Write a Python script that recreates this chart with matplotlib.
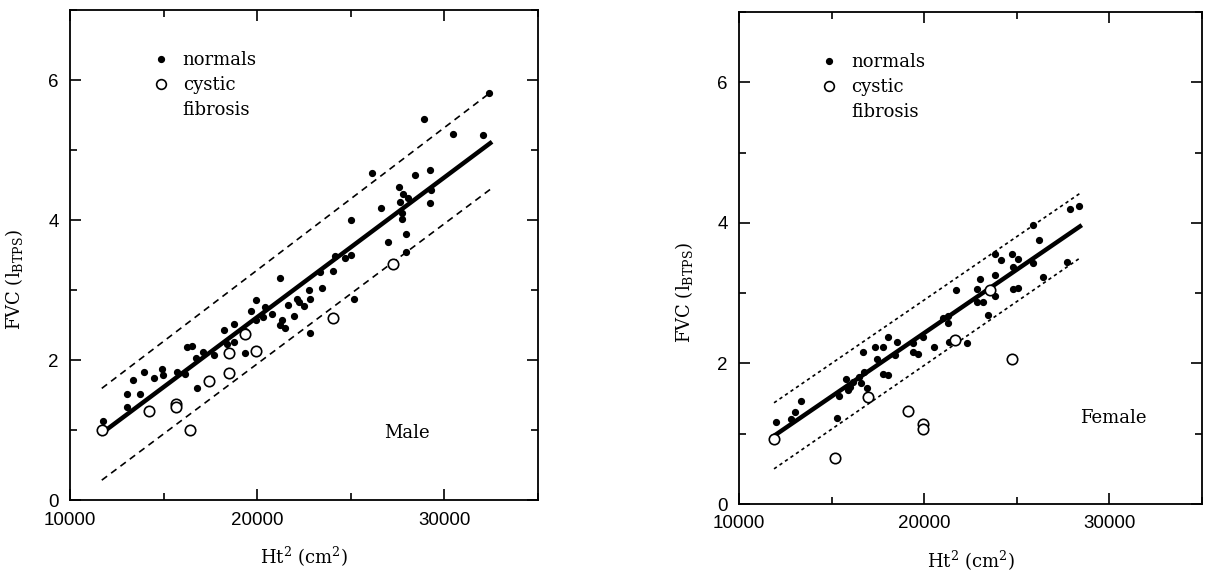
import numpy as np
import matplotlib

matplotlib.use("Agg")
from matplotlib import pyplot as plt
from matplotlib.lines import Line2D
from matplotlib.ticker import MultipleLocator

# Male: normals
male_norm_x = [11750, 13030, 13030, 13740, 13380, 13970, 14500, 14950, 14900, 15700,
               16140, 16230, 16500, 16730, 17090, 16770, 17710, 18250, 18370, 18780,
               18780, 19370, 19350, 19650, 19920, 19920, 20330, 20420, 20780, 21220,
               21310, 21220, 21490, 21670, 21970, 22110, 22250, 22520, 22790, 22820,
               22820, 23450, 23360, 24070, 24160, 24690, 25010, 25010, 25170, 26120,
               26620, 26970, 27600, 27630, 27770, 28080, 27760, 27760, 27950, 27950,
               28430, 28930, 29230, 29230, 29270, 30450, 32050, 32400]
male_norm_y = [1.14, 1.33, 1.52, 1.52, 1.72, 1.84, 1.75, 1.79, 1.87, 1.83,
               1.81, 2.19, 2.21, 2.03, 2.12, 1.60, 2.07, 2.43, 2.24, 2.52,
               2.26, 2.10, 2.42, 2.71, 2.86, 2.57, 2.62, 2.76, 2.66, 3.17,
               2.57, 2.50, 2.46, 2.79, 2.63, 2.88, 2.83, 2.78, 3.00, 2.88,
               2.39, 3.03, 3.26, 3.28, 3.49, 3.46, 3.50, 4.00, 2.87, 4.68,
               4.18, 3.69, 4.47, 4.26, 4.37, 4.32, 4.10, 4.02, 3.80, 3.54,
               4.65, 5.45, 4.71, 4.24, 4.43, 5.23, 5.21, 5.82]

# Male: cystic fibrosis
male_cf_x = [11700, 14200, 15650, 15650, 16400, 17430, 18510, 18510, 19330, 19940, 24070, 27230]
male_cf_y = [1.00, 1.28, 1.38, 1.34, 1.00, 1.70, 1.82, 2.10, 2.38, 2.13, 2.61, 3.38]

# Female: normals
fem_norm_x = [12000, 12790, 13020, 13350, 15310, 15420, 15780, 15900, 15990, 16170,
              16500, 16590, 16710, 16750, 16890, 16980, 17340, 17470, 17760, 17790,
              18030, 18030, 18420, 18550, 19380, 19680, 19410, 19950, 20550, 21000,
              21300, 21270, 21700, 21340, 22290, 22830, 22830, 23010, 23190, 23460,
              23820, 23820, 23820, 24130, 24720, 24780, 25050, 24780, 25080, 25890,
              25890, 26220, 26400, 27730, 27870, 28380]
fem_norm_y = [1.17, 1.21, 1.31, 1.46, 1.23, 1.54, 1.78, 1.62, 1.67, 1.74,
              1.80, 1.72, 2.16, 1.88, 1.65, 1.53, 2.24, 2.07, 2.24, 1.85,
              1.83, 2.38, 2.12, 2.30, 2.16, 2.14, 2.29, 2.37, 2.24, 2.64,
              2.57, 2.67, 3.05, 2.31, 2.29, 3.06, 2.87, 3.20, 2.87, 2.69,
              3.55, 3.26, 2.96, 3.47, 3.55, 3.37, 3.49, 3.06, 3.08, 3.43,
              3.97, 3.75, 3.23, 3.44, 4.20, 4.24]

# Female: cystic fibrosis
fem_cf_x = [11890, 15180, 16950, 19110, 19950, 19950, 21660, 23540, 24750]
fem_cf_y = [0.93, 0.65, 1.52, 1.32, 1.14, 1.07, 2.33, 3.05, 2.06]

# Regression lines and prediction bands (end points)
male_fit_x = [11700, 32450]
male_fit_y = [0.96, 5.10]
male_up_y = [1.60, 5.82]
male_lo_y = [0.29, 4.44]

fem_fit_x = [11890, 28410]
fem_fit_y = [0.97, 3.95]
fem_up_y = [1.44, 4.42]
fem_lo_y = [0.50, 3.50]

plt.rcParams["mathtext.default"] = "regular"

fig = plt.figure(figsize=(12.06, 5.77), dpi=100)
ax1 = fig.add_axes([0.058, 0.1326, 0.3881, 0.8501])
ax2 = fig.add_axes([0.6128, 0.1265, 0.3839, 0.8527])

serif = "DejaVu Serif"
sans = "Liberation Sans"


def setup(ax, label_y):
    ax.set_xlim(10000, 35000)
    ax.set_ylim(0, 7)
    ax.xaxis.set_major_locator(MultipleLocator(10000))
    ax.xaxis.set_minor_locator(MultipleLocator(5000))
    ax.yaxis.set_major_locator(MultipleLocator(2))
    ax.yaxis.set_minor_locator(MultipleLocator(1))
    ax.tick_params(which="both", direction="in", top=True, right=True, width=1.2)
    ax.tick_params(which="major", length=8)
    ax.tick_params(which="minor", length=5)
    ax.tick_params(axis="y", pad=8)
    ax.tick_params(axis="x", pad=8)
    for lab in ax.get_xticklabels() + ax.get_yticklabels():
        lab.set_fontfamily(sans)
        lab.set_fontsize(13.5)
    for sp in ax.spines.values():
        sp.set_linewidth(1.3)
    ax.set_ylabel("FVC (l$_{BTPS}$)", fontfamily=serif, fontsize=13)
    ax.yaxis.set_label_coords(-0.095, label_y)
    ax.set_xlabel("Ht$^2$ (cm$^2$)", fontfamily=serif, fontsize=13, labelpad=12)


def draw(ax, nx, ny, cx, cy, fx, fy, uy, ly, dash):
    ax.plot(nx, ny, "o", color="k", ms=4.2, ls="none", zorder=3)
    ax.plot(cx, cy, "o", mfc="white", mec="k", mew=1.2, ms=7.5, ls="none", zorder=4)
    ax.plot(fx, fy, "-", color="k", lw=3.2, zorder=2)
    ax.plot(fx, uy, color="k", lw=1.2, dashes=dash)
    ax.plot(fx, ly, color="k", lw=1.2, dashes=dash)
    handles = [
        Line2D([], [], marker="o", color="k", ms=4.2, ls="none"),
        Line2D([], [], marker="o", mfc="white", mec="k", mew=1.2, ms=7, ls="none"),
        Line2D([], [], ls="none"),
    ]
    ax.legend(handles, ["normals", "cystic", "fibrosis"], loc="upper left",
              bbox_to_anchor=(0.16, 0.935), frameon=False, handlelength=0.8,
              handletextpad=0.8, labelspacing=0.4, borderpad=0,
              prop={"family": serif, "size": 13})


setup(ax1, 0.45)
draw(ax1, male_norm_x, male_norm_y, male_cf_x, male_cf_y,
     male_fit_x, male_fit_y, male_up_y, male_lo_y, (4, 3))
ax1.text(26800, 0.96, "Male", fontfamily=serif, fontsize=13, va="center")

setup(ax2, 0.43)
draw(ax2, fem_norm_x, fem_norm_y, fem_cf_x, fem_cf_y,
     fem_fit_x, fem_fit_y, fem_up_y, fem_lo_y, (2, 2))
ax2.text(28400, 1.22, "Female", fontfamily=serif, fontsize=13, va="center")

fig.savefig("out.png", dpi=100)
